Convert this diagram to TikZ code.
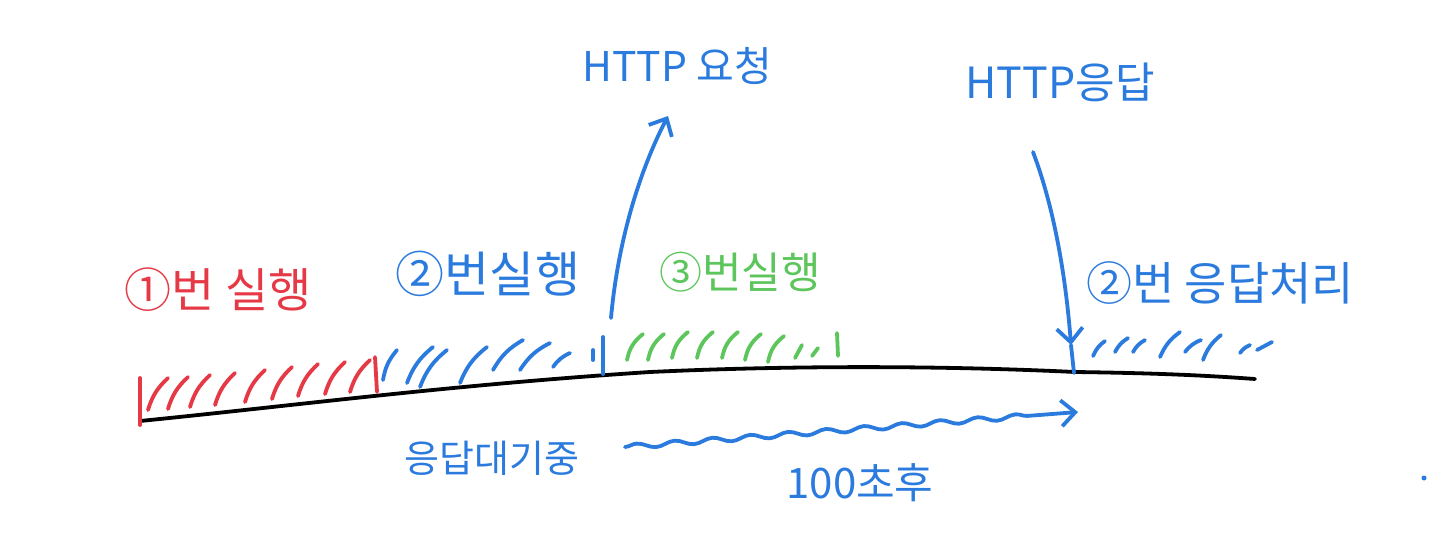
\documentclass[tikz,border=0pt]{standalone}
\usepackage{fontspec}
\newfontfamily\kr{Noto Sans CJK KR}
\usetikzlibrary{decorations.pathmorphing,arrows.meta}
\definecolor{hred}{HTML}{E63946}
\definecolor{hblue}{HTML}{2B7BDE}
\definecolor{hgreen}{HTML}{5CC65C}
\tikzset{
  pen/.style={line width=3.8pt, line cap=round, line join=round},
  lbl/.style={font=\kr\fontsize{#1}{#1}\selectfont, inner sep=0pt, anchor=center},
  lbl/.default=47,
  barb/.style={-{Straight Barb[length=14pt,width=26pt,line width=3.8pt]}},
}
\begin{document}
\begin{tikzpicture}[x=1pt,y=-1pt]
\fill[white] (0,0) rectangle (1440,554);
\useasboundingbox (0,0) rectangle (1440,554);

% baseline
\coordinate (b0) at (140,421);
\coordinate (b1) at (650,372);
\coordinate (b2) at (1075,372);
\coordinate (b3) at (1255,379);
\draw[pen,black] (b0) .. controls (300,405) and (450,385) .. (b1)
  .. controls (800,365) and (950,366) .. (b2)
  .. controls (1150,373) and (1200,375) .. (b3);

% red hatches
\draw[pen,hred] (140,378) -- (140,425);
\foreach \x/\y in {148/410,168/409,190/407,215/405,245/402,272/399,298/396,325/394,350/392}
  \draw[pen,hred] (\x,\y) to[bend left=15] ++(20,-32);
\draw[pen,hred] (375,357) -- (377,392);

% blue hatches
\foreach \x/\y/\dx/\dy in {383/380/14/-30,407/383/26/-36,420/387/27/-37,460/383/27/-36,493/370/30/-30,520/370/30/-27,553/367/17/-14}
  \draw[pen,hblue] (\x,\y) to[bend left=15] ++(\dx,\dy);
\draw[pen,hblue] (593,350) -- (593,360);
\draw[pen,hblue] (603,337) -- (603,374);

% green hatches
\foreach \x/\y in {627/360,648/360,672/358,697/358,722/358,745/360,768/362}
  \draw[pen,hgreen] (\x,\y) to[bend left=20] ++(16,-26);
\draw[pen,hgreen] (795,358) -- (802,345);
\draw[pen,hgreen] (812,356) -- (818,348);
\draw[pen,hgreen] (837,333) -- (838,356);

% right blue hatches
\foreach \x/\y/\dx/\dy in {1093/356/12/-15,1115/352/13/-14,1133/352/12/-12,1160/357/20/-25,1185/352/16/-12,1203/360/18/-25,1240/353/10/-8}
  \draw[pen,hblue] (\x,\y) to[bend left=15] ++(\dx,\dy);
\draw[pen,hblue] (1257,350) -- (1272,342);

% labels
\node[lbl, text=hred] (l1) at (218,290) {①번 실행};
\node[lbl=49, text=hblue] (l2) at (488,274) {②번실행};
\node[lbl=43, text=hgreen] (l3) at (740,272) {③번실행};
\node[lbl=41, text=hblue] (req) at (677,66) {HTTP 요청};
\node[lbl=43, text=hblue] (res) at (1060,82) {HTTP응답};
\node[lbl=46, text=hblue] (l4) at (1220,283) {②번 응답처리};
\node[lbl=38, text=hblue] (wait) at (492,458) {응답대기중};
\node[lbl=42, text=hblue] (after) at (860,483) {100초후};

% request arrow
\coordinate (reqS) at (611,318);
\coordinate (reqE) at (668,116);
\draw[pen,hblue,barb] (reqS) .. controls (618,240) and (640,170) .. (reqE);

% response arrow
\coordinate (resS) at (1033,152);
\coordinate (resM) at (1071,345);
\coordinate (resE) at (1074,373);
\draw[pen,hblue,barb] (resS) .. controls (1055,210) and (1066,280) .. (resM);
\draw[pen,hblue] (resM) -- (resE);

% waiting wave
\coordinate (w1) at (625,447);
\coordinate (w2) at (1078,412);
\draw[pen,hblue,barb,decorate,decoration={snake,amplitude=2.5pt,segment length=38pt,post length=40pt}] (w1) -- (w2);

% stray dot
\fill[hblue] (1424,478) circle (2.5);
\end{tikzpicture}
\end{document}
